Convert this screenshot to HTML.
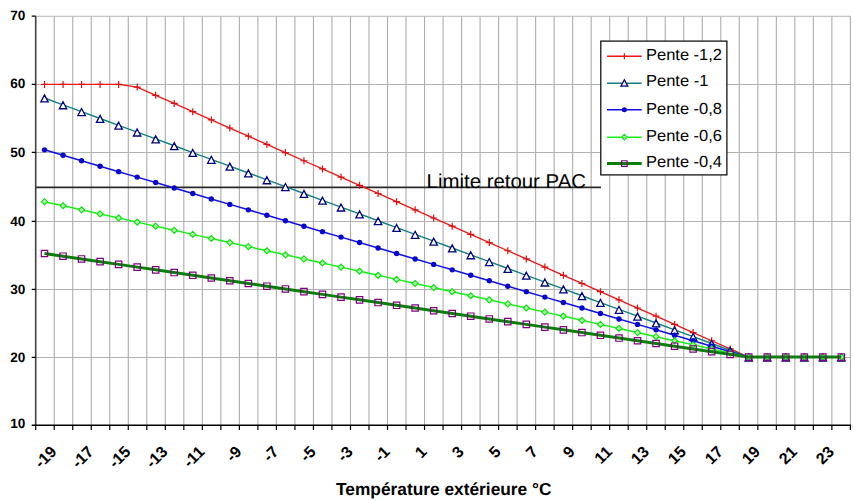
<!DOCTYPE html>
<html><head><meta charset="utf-8"><title>Chart</title>
<style>html,body{margin:0;padding:0;background:#fff}svg{display:block}text{font-family:"Liberation Sans",sans-serif;text-rendering:geometricPrecision}</style></head>
<body>
<svg width="854" height="501" viewBox="0 0 854 501">
<rect width="854" height="501" fill="#fff"/>
<path d="M54.22 16.2V425.3M72.73 16.2V425.3M91.25 16.2V425.3M109.76 16.2V425.3M128.28 16.2V425.3M146.8 16.2V425.3M165.31 16.2V425.3M183.83 16.2V425.3M202.34 16.2V425.3M220.86 16.2V425.3M239.38 16.2V425.3M257.89 16.2V425.3M276.41 16.2V425.3M294.92 16.2V425.3M313.44 16.2V425.3M331.95 16.2V425.3M350.47 16.2V425.3M368.99 16.2V425.3M387.5 16.2V425.3M406.02 16.2V425.3M424.53 16.2V425.3M443.05 16.2V425.3M461.57 16.2V425.3M480.08 16.2V425.3M498.6 16.2V425.3M517.11 16.2V425.3M535.63 16.2V425.3M554.15 16.2V425.3M572.66 16.2V425.3M591.18 16.2V425.3M609.69 16.2V425.3M628.21 16.2V425.3M646.73 16.2V425.3M665.24 16.2V425.3M683.76 16.2V425.3M702.27 16.2V425.3M720.79 16.2V425.3M739.3 16.2V425.3M757.82 16.2V425.3M776.34 16.2V425.3M794.85 16.2V425.3M813.37 16.2V425.3M831.88 16.2V425.3M850.4 16.2V425.3" stroke="#adadad" stroke-width="1.1" fill="none"/>
<path d="M35.7 16.2H850.4M35.7 84.4H850.4M35.7 152.4H850.4M35.7 221.4H850.4M35.7 289.4H850.4M35.7 357.4H850.4" stroke="#b2b2b2" stroke-width="1.05" fill="none"/>
<path d="M35.7 187.35H601" stroke="#2a2a2a" stroke-width="1.7" fill="none"/>
<path d="M35.7 16.2V425.8" stroke="#404040" stroke-width="1.6" fill="none"/>
<path d="M31.7 425.3H850.9" stroke="#000" stroke-width="1.5" fill="none"/>
<path d="M35.7 425.3V429.9M54.22 425.3V429.9M72.73 425.3V429.9M91.25 425.3V429.9M109.76 425.3V429.9M128.28 425.3V429.9M146.8 425.3V429.9M165.31 425.3V429.9M183.83 425.3V429.9M202.34 425.3V429.9M220.86 425.3V429.9M239.38 425.3V429.9M257.89 425.3V429.9M276.41 425.3V429.9M294.92 425.3V429.9M313.44 425.3V429.9M331.95 425.3V429.9M350.47 425.3V429.9M368.99 425.3V429.9M387.5 425.3V429.9M406.02 425.3V429.9M424.53 425.3V429.9M443.05 425.3V429.9M461.57 425.3V429.9M480.08 425.3V429.9M498.6 425.3V429.9M517.11 425.3V429.9M535.63 425.3V429.9M554.15 425.3V429.9M572.66 425.3V429.9M591.18 425.3V429.9M609.69 425.3V429.9M628.21 425.3V429.9M646.73 425.3V429.9M665.24 425.3V429.9M683.76 425.3V429.9M702.27 425.3V429.9M720.79 425.3V429.9M739.3 425.3V429.9M757.82 425.3V429.9M776.34 425.3V429.9M794.85 425.3V429.9M813.37 425.3V429.9M831.88 425.3V429.9M850.4 425.3V429.9" stroke="#000" stroke-width="1.2" fill="none"/>
<path d="M31.7 16.2H35.7M31.7 84.4H35.7M31.7 152.4H35.7M31.7 221.4H35.7M31.7 289.4H35.7M31.7 357.4H35.7" stroke="#000" stroke-width="1.2" fill="none"/>
<text x="25.4" y="20.3" font-size="13.6" font-weight="bold" text-anchor="end">70</text>
<text x="25.4" y="88.3" font-size="13.6" font-weight="bold" text-anchor="end">60</text>
<text x="25.4" y="157" font-size="13.6" font-weight="bold" text-anchor="end">50</text>
<text x="25.4" y="225.6" font-size="13.6" font-weight="bold" text-anchor="end">40</text>
<text x="25.4" y="293.8" font-size="13.6" font-weight="bold" text-anchor="end">30</text>
<text x="25.4" y="361.8" font-size="13.6" font-weight="bold" text-anchor="end">20</text>
<text x="25.4" y="428.4" font-size="13.6" font-weight="bold" text-anchor="end">10</text>
<text transform="translate(57.46 452.7) rotate(-45)" font-size="16" font-weight="bold" text-anchor="end">-19</text>
<text transform="translate(94.49 452.7) rotate(-45)" font-size="16" font-weight="bold" text-anchor="end">-17</text>
<text transform="translate(131.52 452.7) rotate(-45)" font-size="16" font-weight="bold" text-anchor="end">-15</text>
<text transform="translate(168.55 452.7) rotate(-45)" font-size="16" font-weight="bold" text-anchor="end">-13</text>
<text transform="translate(205.59 452.7) rotate(-45)" font-size="16" font-weight="bold" text-anchor="end">-11</text>
<text transform="translate(242.62 452.7) rotate(-45)" font-size="16" font-weight="bold" text-anchor="end">-9</text>
<text transform="translate(279.65 452.7) rotate(-45)" font-size="16" font-weight="bold" text-anchor="end">-7</text>
<text transform="translate(316.68 452.7) rotate(-45)" font-size="16" font-weight="bold" text-anchor="end">-5</text>
<text transform="translate(353.71 452.7) rotate(-45)" font-size="16" font-weight="bold" text-anchor="end">-3</text>
<text transform="translate(390.74 452.7) rotate(-45)" font-size="16" font-weight="bold" text-anchor="end">-1</text>
<text transform="translate(427.78 452.7) rotate(-45)" font-size="16" font-weight="bold" text-anchor="end">1</text>
<text transform="translate(464.81 452.7) rotate(-45)" font-size="16" font-weight="bold" text-anchor="end">3</text>
<text transform="translate(501.84 452.7) rotate(-45)" font-size="16" font-weight="bold" text-anchor="end">5</text>
<text transform="translate(538.87 452.7) rotate(-45)" font-size="16" font-weight="bold" text-anchor="end">7</text>
<text transform="translate(575.9 452.7) rotate(-45)" font-size="16" font-weight="bold" text-anchor="end">9</text>
<text transform="translate(612.94 452.7) rotate(-45)" font-size="16" font-weight="bold" text-anchor="end">11</text>
<text transform="translate(649.97 452.7) rotate(-45)" font-size="16" font-weight="bold" text-anchor="end">13</text>
<text transform="translate(687 452.7) rotate(-45)" font-size="16" font-weight="bold" text-anchor="end">15</text>
<text transform="translate(724.03 452.7) rotate(-45)" font-size="16" font-weight="bold" text-anchor="end">17</text>
<text transform="translate(761.06 452.7) rotate(-45)" font-size="16" font-weight="bold" text-anchor="end">19</text>
<text transform="translate(798.09 452.7) rotate(-45)" font-size="16" font-weight="bold" text-anchor="end">21</text>
<text transform="translate(835.13 452.7) rotate(-45)" font-size="16" font-weight="bold" text-anchor="end">23</text>
<text x="336" y="494.8" font-size="17.33" font-weight="bold" textLength="215.5" lengthAdjust="spacingAndGlyphs">Température extérieure °C</text>
<text x="426.6" y="187.8" font-size="20" textLength="159.4" lengthAdjust="spacingAndGlyphs">Limite retour PAC</text>
<polyline points="44.5,84.38 63.03,84.38 81.56,84.38 100.1,84.38 118.63,84.38 137.16,87.11 155.69,95.29 174.22,103.47 192.76,111.66 211.29,119.84 229.82,128.02 248.35,136.2 266.88,144.38 285.42,152.57 303.95,160.75 322.48,168.93 341.01,177.11 359.54,185.29 378.08,193.48 396.61,201.66 415.14,209.84 433.67,218.02 452.2,226.2 470.74,234.39 489.27,242.57 507.8,250.75 526.33,258.93 544.86,267.11 563.4,275.3 581.93,283.48 600.46,291.66 618.99,299.84 637.52,308.02 656.06,316.21 674.59,324.39 693.12,332.57 711.65,340.75 730.18,348.93 748.72,357.12 767.25,357.12 785.78,357.12 804.31,357.12 822.84,357.12 841.38,357.12" fill="none" stroke="#ee1616" stroke-width="1.35"/>
<path d="M44.5 80.88v7M41 84.38h7M63.03 80.88v7M59.53 84.38h7M81.56 80.88v7M78.06 84.38h7M100.1 80.88v7M96.6 84.38h7M118.63 80.88v7M115.13 84.38h7M137.16 83.61v7M133.66 87.11h7M155.69 91.79v7M152.19 95.29h7M174.22 99.97v7M170.72 103.47h7M192.76 108.16v7M189.26 111.66h7M211.29 116.34v7M207.79 119.84h7M229.82 124.52v7M226.32 128.02h7M248.35 132.7v7M244.85 136.2h7M266.88 140.88v7M263.38 144.38h7M285.42 149.07v7M281.92 152.57h7M303.95 157.25v7M300.45 160.75h7M322.48 165.43v7M318.98 168.93h7M341.01 173.61v7M337.51 177.11h7M359.54 181.79v7M356.04 185.29h7M378.08 189.98v7M374.58 193.48h7M396.61 198.16v7M393.11 201.66h7M415.14 206.34v7M411.64 209.84h7M433.67 214.52v7M430.17 218.02h7M452.2 222.7v7M448.7 226.2h7M470.74 230.89v7M467.24 234.39h7M489.27 239.07v7M485.77 242.57h7M507.8 247.25v7M504.3 250.75h7M526.33 255.43v7M522.83 258.93h7M544.86 263.61v7M541.36 267.11h7M563.4 271.8v7M559.9 275.3h7M581.93 279.98v7M578.43 283.48h7M600.46 288.16v7M596.96 291.66h7M618.99 296.34v7M615.49 299.84h7M637.52 304.52v7M634.02 308.02h7M656.06 312.71v7M652.56 316.21h7M674.59 320.89v7M671.09 324.39h7M693.12 329.07v7M689.62 332.57h7M711.65 337.25v7M708.15 340.75h7M730.18 345.43v7M726.68 348.93h7M748.72 353.62v7M745.22 357.12h7M767.25 353.62v7M763.75 357.12h7M785.78 353.62v7M782.28 357.12h7M804.31 353.62v7M800.81 357.12h7M822.84 353.62v7M819.34 357.12h7M841.38 353.62v7M837.88 357.12h7" stroke="#dc1010" stroke-width="1.2" fill="none"/>
<polyline points="44.5,98.02 63.03,104.84 81.56,111.66 100.1,118.48 118.63,125.29 137.16,132.11 155.69,138.93 174.22,145.75 192.76,152.57 211.29,159.38 229.82,166.2 248.35,173.02 266.88,179.84 285.42,186.66 303.95,193.48 322.48,200.29 341.01,207.11 359.54,213.93 378.08,220.75 396.61,227.57 415.14,234.39 433.67,241.21 452.2,248.02 470.74,254.84 489.27,261.66 507.8,268.48 526.33,275.3 544.86,282.12 563.4,288.93 581.93,295.75 600.46,302.57 618.99,309.39 637.52,316.21 656.06,323.02 674.59,329.84 693.12,336.66 711.65,343.48 730.18,350.3 748.72,357.12 767.25,357.12 785.78,357.12 804.31,357.12 822.84,357.12 841.38,357.12" fill="none" stroke="#108080" stroke-width="1.4"/>
<path d="M44.5 94.92l3.7 7h-7.4zM63.03 101.74l3.7 7h-7.4zM81.56 108.56l3.7 7h-7.4zM100.1 115.38l3.7 7h-7.4zM118.63 122.19l3.7 7h-7.4zM137.16 129.01l3.7 7h-7.4zM155.69 135.83l3.7 7h-7.4zM174.22 142.65l3.7 7h-7.4zM192.76 149.47l3.7 7h-7.4zM211.29 156.28l3.7 7h-7.4zM229.82 163.1l3.7 7h-7.4zM248.35 169.92l3.7 7h-7.4zM266.88 176.74l3.7 7h-7.4zM285.42 183.56l3.7 7h-7.4zM303.95 190.38l3.7 7h-7.4zM322.48 197.19l3.7 7h-7.4zM341.01 204.01l3.7 7h-7.4zM359.54 210.83l3.7 7h-7.4zM378.08 217.65l3.7 7h-7.4zM396.61 224.47l3.7 7h-7.4zM415.14 231.29l3.7 7h-7.4zM433.67 238.11l3.7 7h-7.4zM452.2 244.92l3.7 7h-7.4zM470.74 251.74l3.7 7h-7.4zM489.27 258.56l3.7 7h-7.4zM507.8 265.38l3.7 7h-7.4zM526.33 272.2l3.7 7h-7.4zM544.86 279.01l3.7 7h-7.4zM563.4 285.83l3.7 7h-7.4zM581.93 292.65l3.7 7h-7.4zM600.46 299.47l3.7 7h-7.4zM618.99 306.29l3.7 7h-7.4zM637.52 313.11l3.7 7h-7.4zM656.06 319.92l3.7 7h-7.4zM674.59 326.74l3.7 7h-7.4zM693.12 333.56l3.7 7h-7.4zM711.65 340.38l3.7 7h-7.4zM730.18 347.2l3.7 7h-7.4zM748.72 354.02l3.7 7h-7.4zM767.25 354.02l3.7 7h-7.4zM785.78 354.02l3.7 7h-7.4zM804.31 354.02l3.7 7h-7.4zM822.84 354.02l3.7 7h-7.4zM841.38 354.02l3.7 7h-7.4z" stroke="#000080" stroke-width="1.3" fill="#fff" stroke-linejoin="miter"/>
<polyline points="44.5,149.84 63.03,155.29 81.56,160.75 100.1,166.2 118.63,171.66 137.16,177.11 155.69,182.57 174.22,188.02 192.76,193.48 211.29,198.93 229.82,204.39 248.35,209.84 266.88,215.3 285.42,220.75 303.95,226.2 322.48,231.66 341.01,237.11 359.54,242.57 378.08,248.02 396.61,253.48 415.14,258.93 433.67,264.39 452.2,269.84 470.74,275.3 489.27,280.75 507.8,286.21 526.33,291.66 544.86,297.12 563.4,302.57 581.93,308.02 600.46,313.48 618.99,318.93 637.52,324.39 656.06,329.84 674.59,335.3 693.12,340.75 711.65,346.21 730.18,351.66 748.72,357.12 767.25,357.12 785.78,357.12 804.31,357.12 822.84,357.12 841.38,357.12" fill="none" stroke="#1010e8" stroke-width="1.5"/>
<circle cx="44.5" cy="149.84" r="2.7" fill="#0808cc"/><circle cx="63.03" cy="155.29" r="2.7" fill="#0808cc"/><circle cx="81.56" cy="160.75" r="2.7" fill="#0808cc"/><circle cx="100.1" cy="166.2" r="2.7" fill="#0808cc"/><circle cx="118.63" cy="171.66" r="2.7" fill="#0808cc"/><circle cx="137.16" cy="177.11" r="2.7" fill="#0808cc"/><circle cx="155.69" cy="182.57" r="2.7" fill="#0808cc"/><circle cx="174.22" cy="188.02" r="2.7" fill="#0808cc"/><circle cx="192.76" cy="193.48" r="2.7" fill="#0808cc"/><circle cx="211.29" cy="198.93" r="2.7" fill="#0808cc"/><circle cx="229.82" cy="204.39" r="2.7" fill="#0808cc"/><circle cx="248.35" cy="209.84" r="2.7" fill="#0808cc"/><circle cx="266.88" cy="215.3" r="2.7" fill="#0808cc"/><circle cx="285.42" cy="220.75" r="2.7" fill="#0808cc"/><circle cx="303.95" cy="226.2" r="2.7" fill="#0808cc"/><circle cx="322.48" cy="231.66" r="2.7" fill="#0808cc"/><circle cx="341.01" cy="237.11" r="2.7" fill="#0808cc"/><circle cx="359.54" cy="242.57" r="2.7" fill="#0808cc"/><circle cx="378.08" cy="248.02" r="2.7" fill="#0808cc"/><circle cx="396.61" cy="253.48" r="2.7" fill="#0808cc"/><circle cx="415.14" cy="258.93" r="2.7" fill="#0808cc"/><circle cx="433.67" cy="264.39" r="2.7" fill="#0808cc"/><circle cx="452.2" cy="269.84" r="2.7" fill="#0808cc"/><circle cx="470.74" cy="275.3" r="2.7" fill="#0808cc"/><circle cx="489.27" cy="280.75" r="2.7" fill="#0808cc"/><circle cx="507.8" cy="286.21" r="2.7" fill="#0808cc"/><circle cx="526.33" cy="291.66" r="2.7" fill="#0808cc"/><circle cx="544.86" cy="297.12" r="2.7" fill="#0808cc"/><circle cx="563.4" cy="302.57" r="2.7" fill="#0808cc"/><circle cx="581.93" cy="308.02" r="2.7" fill="#0808cc"/><circle cx="600.46" cy="313.48" r="2.7" fill="#0808cc"/><circle cx="618.99" cy="318.93" r="2.7" fill="#0808cc"/><circle cx="637.52" cy="324.39" r="2.7" fill="#0808cc"/><circle cx="656.06" cy="329.84" r="2.7" fill="#0808cc"/><circle cx="674.59" cy="335.3" r="2.7" fill="#0808cc"/><circle cx="693.12" cy="340.75" r="2.7" fill="#0808cc"/><circle cx="711.65" cy="346.21" r="2.7" fill="#0808cc"/><circle cx="730.18" cy="351.66" r="2.7" fill="#0808cc"/><circle cx="748.72" cy="357.12" r="2.7" fill="#0808cc"/><circle cx="767.25" cy="357.12" r="2.7" fill="#0808cc"/><circle cx="785.78" cy="357.12" r="2.7" fill="#0808cc"/><circle cx="804.31" cy="357.12" r="2.7" fill="#0808cc"/><circle cx="822.84" cy="357.12" r="2.7" fill="#0808cc"/><circle cx="841.38" cy="357.12" r="2.7" fill="#0808cc"/>
<polyline points="44.5,201.66 63.03,205.75 81.56,209.84 100.1,213.93 118.63,218.02 137.16,222.11 155.69,226.2 174.22,230.3 192.76,234.39 211.29,238.48 229.82,242.57 248.35,246.66 266.88,250.75 285.42,254.84 303.95,258.93 322.48,263.02 341.01,267.11 359.54,271.21 378.08,275.3 396.61,279.39 415.14,283.48 433.67,287.57 452.2,291.66 470.74,295.75 489.27,299.84 507.8,303.93 526.33,308.02 544.86,312.12 563.4,316.21 581.93,320.3 600.46,324.39 618.99,328.48 637.52,332.57 656.06,336.66 674.59,340.75 693.12,344.84 711.65,348.93 730.18,353.03 748.72,357.12 767.25,357.12 785.78,357.12 804.31,357.12 822.84,357.12 841.38,357.12" fill="none" stroke="#18f018" stroke-width="1.5"/>
<path d="M44.5 198.66l3 3l-3 3l-3-3zM63.03 202.75l3 3l-3 3l-3-3zM81.56 206.84l3 3l-3 3l-3-3zM100.1 210.93l3 3l-3 3l-3-3zM118.63 215.02l3 3l-3 3l-3-3zM137.16 219.11l3 3l-3 3l-3-3zM155.69 223.2l3 3l-3 3l-3-3zM174.22 227.3l3 3l-3 3l-3-3zM192.76 231.39l3 3l-3 3l-3-3zM211.29 235.48l3 3l-3 3l-3-3zM229.82 239.57l3 3l-3 3l-3-3zM248.35 243.66l3 3l-3 3l-3-3zM266.88 247.75l3 3l-3 3l-3-3zM285.42 251.84l3 3l-3 3l-3-3zM303.95 255.93l3 3l-3 3l-3-3zM322.48 260.02l3 3l-3 3l-3-3zM341.01 264.11l3 3l-3 3l-3-3zM359.54 268.21l3 3l-3 3l-3-3zM378.08 272.3l3 3l-3 3l-3-3zM396.61 276.39l3 3l-3 3l-3-3zM415.14 280.48l3 3l-3 3l-3-3zM433.67 284.57l3 3l-3 3l-3-3zM452.2 288.66l3 3l-3 3l-3-3zM470.74 292.75l3 3l-3 3l-3-3zM489.27 296.84l3 3l-3 3l-3-3zM507.8 300.93l3 3l-3 3l-3-3zM526.33 305.02l3 3l-3 3l-3-3zM544.86 309.12l3 3l-3 3l-3-3zM563.4 313.21l3 3l-3 3l-3-3zM581.93 317.3l3 3l-3 3l-3-3zM600.46 321.39l3 3l-3 3l-3-3zM618.99 325.48l3 3l-3 3l-3-3zM637.52 329.57l3 3l-3 3l-3-3zM656.06 333.66l3 3l-3 3l-3-3zM674.59 337.75l3 3l-3 3l-3-3zM693.12 341.84l3 3l-3 3l-3-3zM711.65 345.93l3 3l-3 3l-3-3zM730.18 350.03l3 3l-3 3l-3-3zM748.72 354.12l3 3l-3 3l-3-3zM767.25 354.12l3 3l-3 3l-3-3zM785.78 354.12l3 3l-3 3l-3-3zM804.31 354.12l3 3l-3 3l-3-3zM822.84 354.12l3 3l-3 3l-3-3zM841.38 354.12l3 3l-3 3l-3-3z" stroke="#10e010" stroke-width="1.2" fill="#b0ffb0"/>
<polyline points="44.5,253.48 63.03,256.21 81.56,258.93 100.1,261.66 118.63,264.39 137.16,267.11 155.69,269.84 174.22,272.57 192.76,275.3 211.29,278.02 229.82,280.75 248.35,283.48 266.88,286.21 285.42,288.93 303.95,291.66 322.48,294.39 341.01,297.12 359.54,299.84 378.08,302.57 396.61,305.3 415.14,308.02 433.67,310.75 452.2,313.48 470.74,316.21 489.27,318.93 507.8,321.66 526.33,324.39 544.86,327.12 563.4,329.84 581.93,332.57 600.46,335.3 618.99,338.03 637.52,340.75 656.06,343.48 674.59,346.21 693.12,348.93 711.65,351.66 730.18,354.39 748.72,357.12 767.25,357.12 785.78,357.12 804.31,357.12 822.84,357.12 841.38,357.12" fill="none" stroke="#088008" stroke-width="3"/>
<path d="M41.3 250.28h6.4v6.4h-6.4zM59.83 253.01h6.4v6.4h-6.4zM78.36 255.73h6.4v6.4h-6.4zM96.9 258.46h6.4v6.4h-6.4zM115.43 261.19h6.4v6.4h-6.4zM133.96 263.91h6.4v6.4h-6.4zM152.49 266.64h6.4v6.4h-6.4zM171.02 269.37h6.4v6.4h-6.4zM189.56 272.1h6.4v6.4h-6.4zM208.09 274.82h6.4v6.4h-6.4zM226.62 277.55h6.4v6.4h-6.4zM245.15 280.28h6.4v6.4h-6.4zM263.68 283.01h6.4v6.4h-6.4zM282.22 285.73h6.4v6.4h-6.4zM300.75 288.46h6.4v6.4h-6.4zM319.28 291.19h6.4v6.4h-6.4zM337.81 293.92h6.4v6.4h-6.4zM356.34 296.64h6.4v6.4h-6.4zM374.88 299.37h6.4v6.4h-6.4zM393.41 302.1h6.4v6.4h-6.4zM411.94 304.82h6.4v6.4h-6.4zM430.47 307.55h6.4v6.4h-6.4zM449 310.28h6.4v6.4h-6.4zM467.54 313.01h6.4v6.4h-6.4zM486.07 315.73h6.4v6.4h-6.4zM504.6 318.46h6.4v6.4h-6.4zM523.13 321.19h6.4v6.4h-6.4zM541.66 323.92h6.4v6.4h-6.4zM560.2 326.64h6.4v6.4h-6.4zM578.73 329.37h6.4v6.4h-6.4zM597.26 332.1h6.4v6.4h-6.4zM615.79 334.83h6.4v6.4h-6.4zM634.32 337.55h6.4v6.4h-6.4zM652.86 340.28h6.4v6.4h-6.4zM671.39 343.01h6.4v6.4h-6.4zM689.92 345.73h6.4v6.4h-6.4zM708.45 348.46h6.4v6.4h-6.4zM726.98 351.19h6.4v6.4h-6.4zM745.52 353.92h6.4v6.4h-6.4zM764.05 353.92h6.4v6.4h-6.4zM782.58 353.92h6.4v6.4h-6.4zM801.11 353.92h6.4v6.4h-6.4zM819.64 353.92h6.4v6.4h-6.4zM838.18 353.92h6.4v6.4h-6.4z" stroke="#800080" stroke-width="1.2" fill="none"/>
<rect x="600.8" y="41.1" width="126.1" height="133.8" fill="#fff" stroke="#000" stroke-width="1.2"/>
<path d="M607 56.2H641.7" stroke="#ee1616" stroke-width="1.35"/><path d="M624.35 53.2v6" stroke="#dc1010" stroke-width="1.2"/>
<path d="M607 83.2H641.7" stroke="#108080" stroke-width="1.4"/><path d="M624.35 79.8l3.4 6.4h-6.8z" stroke="#000080" stroke-width="1.3" fill="#fff"/>
<path d="M607 109.7H641.7" stroke="#1010e8" stroke-width="1.5"/><circle cx="624.35" cy="109.7" r="2.5" fill="#0808cc"/>
<path d="M607 137.2H641.7" stroke="#18f018" stroke-width="1.5"/><path d="M624.35 134.4l2.8 2.8l-2.8 2.8l-2.8-2.8z" stroke="#10e010" stroke-width="1.1" fill="#b0ffb0"/>
<path d="M607 163.6H641.7" stroke="#088008" stroke-width="3"/><path d="M621.55 160.8h5.6v5.6h-5.6z" stroke="#800080" stroke-width="1.1" fill="none"/>
<text x="646" y="59.5" font-size="16" textLength="76" lengthAdjust="spacingAndGlyphs">Pente -1,2</text>
<text x="646" y="86.4" font-size="16" textLength="62.3" lengthAdjust="spacingAndGlyphs">Pente -1</text>
<text x="646" y="113.6" font-size="16" textLength="76" lengthAdjust="spacingAndGlyphs">Pente -0,8</text>
<text x="646" y="140.6" font-size="16" textLength="76" lengthAdjust="spacingAndGlyphs">Pente -0,6</text>
<text x="646" y="167.4" font-size="16" textLength="76" lengthAdjust="spacingAndGlyphs">Pente -0,4</text>
</svg>
</body></html>
